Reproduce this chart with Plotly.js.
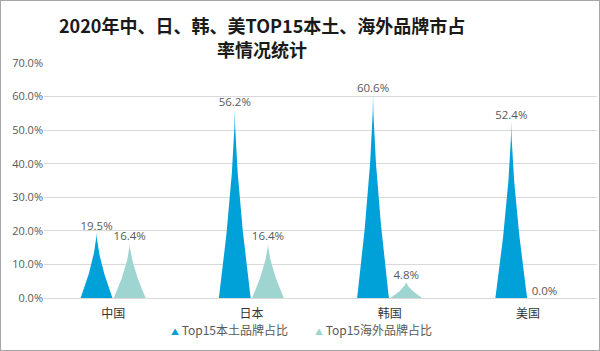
<!DOCTYPE html>
<html>
<head>
<meta charset="utf-8">
<script src="https://cdn.plot.ly/plotly-3.0.1.min.js"></script>
<style>
html,body{margin:0;padding:0;background:#fff;}
#wrap{position:relative;width:600px;height:351px;}
#chart{width:600px;height:351px;}
#border{position:absolute;left:0;top:0;width:598px;height:349px;border:1px solid #a6a6a6;pointer-events:none;}
</style>
</head>
<body>
<div id="wrap"><div id="chart"></div><div id="border"></div></div>
<script>
// Data
const categories = ['中国', '日本', '韩国', '美国'];
const seriesNames = ['Top15本土品牌占比', 'Top15海外品牌占比'];
const localShare = [19.5, 56.2, 60.6, 52.4];
const foreignShare = [16.4, 16.4, 4.8, 0.0];
const yTicks = [0, 10, 20, 30, 40, 50, 60, 70];
const titleLines = ['2020年中、日、韩、美TOP15本土、海外品牌市占', '率情况统计'];

// Style
const colors = ['#00a0d8', '#9fd5d1'];
const offsets = [-0.12, 0.12];
const halfWidth = 0.115;
const power = 1.55;
const N = 40;
const legendX = [0.335, 0.596];
const titleY = [1.162, 1.06];

function spikePath(values, off) {
  const xs = [], ys = [];
  values.forEach((v, i) => {
    const c = i + off;
    for (let k = 0; k <= N; k++) {
      const s = k / N;
      xs.push(c - halfWidth * Math.pow(1 - s, power));
      ys.push(v * s);
    }
    for (let k = N; k >= 0; k--) {
      const s = k / N;
      xs.push(c + halfWidth * Math.pow(1 - s, power));
      ys.push(v * s);
    }
    xs.push(null); ys.push(null);
  });
  return {xs, ys};
}

const idx = categories.map((_, i) => i);
const traces = [];
[localShare, foreignShare].forEach((vals, j) => {
  const p = spikePath(vals, offsets[j]);
  traces.push({
    type: 'scatter', x: p.xs, y: p.ys, mode: 'lines', fill: 'toself',
    fillcolor: colors[j], line: {width: 0, color: colors[j]},
    hoverinfo: 'skip', showlegend: false, name: seriesNames[j]
  });
});
[localShare, foreignShare].forEach((vals, j) => {
  traces.push({
    type: 'scatter', x: idx.map(i => i + offsets[j]), y: vals, mode: 'text',
    text: vals.map(v => v.toFixed(1) + '%'), textposition: 'top center',
    textfont: {size: 11.5, color: '#595959', family: 'Open Sans, Noto Sans, sans-serif'},
    showlegend: false, hoverinfo: 'skip', cliponaxis: false
  });
});

const annotations = titleLines.map((t, i) => ({
  xref: 'paper', yref: 'paper', x: 0.394, y: titleY[i], xanchor: 'center', yanchor: 'middle',
  text: '<b>' + t + '</b>', showarrow: false,
  font: {size: 18, color: '#1a1a1a', family: '"Noto Sans CJK SC", sans-serif'}
}));
seriesNames.forEach((n, j) => {
  annotations.push({
    xref: 'paper', yref: 'paper', x: legendX[j], y: -0.136, xanchor: 'center', yanchor: 'middle',
    showarrow: false,
    text: '<span style="color:' + colors[j] + ';font-size:8px">▲</span> ' + n,
    font: {size: 12, color: '#595959', family: '"Noto Sans CJK SC", sans-serif'}
  });
});

const layout = {
  width: 600, height: 351,
  margin: {l: 44, r: 3, t: 63, b: 53},
  paper_bgcolor: '#ffffff', plot_bgcolor: '#ffffff',
  font: {family: '"Noto Sans CJK SC", "Noto Sans", sans-serif', color: '#595959'},
  xaxis: {
    range: [-0.5, 3.5], tickvals: idx, ticktext: categories,
    showgrid: false, zeroline: false, showline: true, linecolor: '#d9d9d9', linewidth: 1,
    ticks: '', ticklabelstandoff: 5, tickfont: {size: 12, color: '#333333'}, fixedrange: true
  },
  yaxis: {
    range: [0, 70], tickvals: yTicks, ticktext: yTicks.map(v => v.toFixed(1) + '%'),
    showgrid: true, gridcolor: '#d9d9d9', gridwidth: 1, zeroline: false,
    ticks: '', tickfont: {size: 11, color: '#595959', family: 'Open Sans, Noto Sans, sans-serif'},
    fixedrange: true
  },
  annotations: annotations,
  showlegend: false
};

Plotly.newPlot('chart', traces, layout, {staticPlot: true, displayModeBar: false});
</script>
</body>
</html>
